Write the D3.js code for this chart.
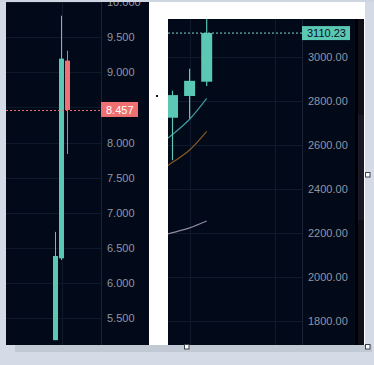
<!DOCTYPE html>
<html><head><meta charset="utf-8">
<script src="https://cdn.jsdelivr.net/npm/d3@7"></script>
<style>html,body{margin:0;padding:0;background:#d4dbe6;overflow:hidden}svg{display:block}</style>
</head><body>
<svg id="c" width="374" height="365"></svg>
<script>
// ---- Left chart data ----
const leftOpen  = [5.19, 6.354, 9.166];
const leftClose = [6.387, 9.194, 8.464];
const leftHigh  = [6.73, 9.805, 9.307];
const leftLow   = [5.19, 6.33, 7.838];
const leftGrid  = [10.0, 9.5, 9.0, 8.5, 8.0, 7.5, 7.0, 6.5, 6.0, 5.5];
const leftTicks = [10.0, 9.5, 9.0, 8.0, 7.5, 7.0, 6.5, 6.0, 5.5]; // 8.500 is hidden under the price label
const leftLast  = 8.457;

// ---- Right chart data ----
const rightOpen  = [2725, 2824, 2889];
const rightClose = [2828, 2893, 3110.23];
const rightHigh  = [2848, 2948, 3200];
const rightLow   = [2532, 2722, 2869];
const maIdx      = [-1, 0, 1, 2];
const maTeal     = [2590, 2649, 2718, 2813];
const maOrange   = [2470, 2522, 2578, 2663];
const maGrey     = [2180, 2202, 2224, 2255];
const rightTicks = [3000, 2800, 2600, 2400, 2200, 2000, 1800];
const rightLast  = 3110.23;

const UP = "#5ac8b2", DOWN = "#ef7070", BG = "#020918", GRID = "#111a2c", SEP = "#1c2336", TXT = "#8f96a6";
const svg = d3.select("#c");
const defs = svg.append("defs");

// page background pieces
svg.append("rect").attr("x",0).attr("y",0).attr("width",374).attr("height",365).attr("fill","#d4dbe6");
svg.append("rect").attr("x",15).attr("y",345).attr("width",357).attr("height",7).attr("fill","#c1c9d5");
svg.append("rect").attr("x",0).attr("y",0).attr("width",374).attr("height",2).attr("fill","#cdd5e1");

// ===== LEFT CHART =====
svg.append("rect").attr("x",6).attr("y",2).attr("width",143).attr("height",343).attr("fill",BG);
defs.append("clipPath").attr("id","clipL").append("rect").attr("x",6).attr("y",2).attr("width",143).attr("height",343);
defs.append("clipPath").attr("id","clipLP").append("rect").attr("x",6).attr("y",2).attr("width",95).attr("height",343);
const yL = d3.scaleLinear().domain([10, 5]).range([2, 353.5]);
const xL = d3.scaleLinear().domain([0, 2]).range([55.5, 67.5]);
const gL = svg.append("g").attr("clip-path","url(#clipL)");
const gLP = svg.append("g").attr("clip-path","url(#clipLP)");
gLP.selectAll("line.hg").data(leftGrid).join("line")
  .attr("x1",6).attr("x2",101).attr("y1",d=>Math.round(yL(d))+0.5).attr("y2",d=>Math.round(yL(d))+0.5)
  .attr("stroke",GRID).attr("stroke-width",1);
gLP.append("line").attr("x1",Math.round(xL(1))+0.5).attr("x2",Math.round(xL(1))+0.5).attr("y1",2).attr("y2",345).attr("stroke",GRID);
gL.append("line").attr("x1",101.5).attr("x2",101.5).attr("y1",2).attr("y2",345).attr("stroke",SEP);
// candles
const li = d3.range(leftOpen.length);
gLP.selectAll("line.wl").data(li).join("line")
  .attr("x1",i=>xL(i)).attr("x2",i=>xL(i)).attr("y1",i=>yL(leftHigh[i])).attr("y2",i=>yL(leftLow[i]))
  .attr("stroke",i=>leftClose[i]>=leftOpen[i]?UP:DOWN).attr("stroke-width",1);
gLP.selectAll("rect.bl").data(li).join("rect")
  .attr("x",i=>xL(i)-2.5).attr("width",5)
  .attr("y",i=>yL(Math.max(leftOpen[i],leftClose[i])))
  .attr("height",i=>Math.abs(yL(leftOpen[i])-yL(leftClose[i])))
  .attr("fill",i=>leftClose[i]>=leftOpen[i]?UP:DOWN);
// axis labels
const axL = d3.axisRight(yL).tickValues(leftTicks).tickFormat(d3.format(".3f")).tickSize(0).tickPadding(6);
const gAxL = gL.append("g").attr("transform","translate(101,0)").call(axL);
gAxL.select(".domain").remove();
gAxL.selectAll("text").attr("fill",TXT).attr("font-family","Liberation Sans, Arial, sans-serif").attr("font-size",11);
// last price line + label
const ly = yL(leftLast);
gLP.append("line").attr("x1",6).attr("x2",101).attr("y1",ly).attr("y2",ly).attr("stroke",DOWN).attr("stroke-dasharray","2,2");
gL.append("rect").attr("x",101).attr("y",ly-8.5).attr("width",37).attr("height",15).attr("fill",DOWN);
gL.append("text").attr("x",106).attr("y",ly).attr("dy","0.35em").attr("fill","#ffffff").attr("font-family","Liberation Sans, Arial, sans-serif").attr("font-size",11).text(d3.format(".3f")(leftLast));

// ===== RIGHT PANEL =====
svg.append("rect").attr("x",149).attr("y",2).attr("width",216).attr("height",343).attr("fill","#ffffff");
svg.append("rect").attr("x",156).attr("y",95).attr("width",2).attr("height",2).attr("fill","#111");
svg.append("rect").attr("x",168).attr("y",19).attr("width",187).attr("height",326).attr("fill",BG);
svg.append("rect").attr("x",355).attr("y",19).attr("width",3).attr("height",326).attr("fill","#000000");
svg.append("rect").attr("x",358).attr("y",19).attr("width",6).attr("height",326).attr("fill","#100e1b");
svg.append("rect").attr("x",358).attr("y",115).attr("width",6).attr("height",105).attr("fill","#1a1727");

defs.append("clipPath").attr("id","clipR").append("rect").attr("x",168).attr("y",19).attr("width",187).attr("height",326);
defs.append("clipPath").attr("id","clipRP").append("rect").attr("x",168).attr("y",19).attr("width",134.5).attr("height",326);
const yR = d3.scaleLinear().domain([3000, 1800]).range([57.3, 321]);
const xR = d3.scaleLinear().domain([0, 1]).range([172.5, 189.6]);
const gR = svg.append("g").attr("clip-path","url(#clipR)");
const gRP = svg.append("g").attr("clip-path","url(#clipRP)");
gRP.selectAll("line.hg").data(rightTicks).join("line")
  .attr("x1",168).attr("x2",302).attr("y1",d=>Math.round(yR(d))+0.5).attr("y2",d=>Math.round(yR(d))+0.5)
  .attr("stroke",GRID);
gRP.selectAll("line.vg").data([1, 6]).join("line")
  .attr("x1",d=>Math.round(xR(d))+0.5).attr("x2",d=>Math.round(xR(d))+0.5).attr("y1",19).attr("y2",345)
  .attr("stroke",GRID);
gR.append("line").attr("x1",302.5).attr("x2",302.5).attr("y1",19).attr("y2",345).attr("stroke",SEP);

// moving averages
const lineGen = arr => d3.line().x((d,i)=>xR(maIdx[i])).y(d=>yR(d)).curve(d3.curveMonotoneX)(arr);
gRP.append("path").attr("d",lineGen(maGrey)).attr("fill","none").attr("stroke","#8e88a2").attr("stroke-width",1.2);
gRP.append("path").attr("d",lineGen(maOrange)).attr("fill","none").attr("stroke","#8a5a26").attr("stroke-width",1.2);
gRP.append("path").attr("d",lineGen(maTeal)).attr("fill","none").attr("stroke","#3f9aa0").attr("stroke-width",1.2);

// candles
const ri = d3.range(rightOpen.length);
gRP.selectAll("line.wr").data(ri).join("line")
  .attr("x1",i=>xR(i)).attr("x2",i=>xR(i)).attr("y1",i=>yR(rightHigh[i])).attr("y2",i=>yR(rightLow[i]))
  .attr("stroke",i=>rightClose[i]>=rightOpen[i]?UP:DOWN).attr("stroke-width",1.2);
gRP.selectAll("rect.br").data(ri).join("rect")
  .attr("x",i=>xR(i)-5.5).attr("width",11)
  .attr("y",i=>yR(Math.max(rightOpen[i],rightClose[i])))
  .attr("height",i=>Math.abs(yR(rightOpen[i])-yR(rightClose[i])))
  .attr("fill",i=>rightClose[i]>=rightOpen[i]?UP:DOWN);

// axis labels
const axR = d3.axisRight(yR).tickValues(rightTicks).tickFormat(d3.format(".2f")).tickSize(0).tickPadding(6);
const gAxR = gR.append("g").attr("transform","translate(302,0)").call(axR);
gAxR.select(".domain").remove();
gAxR.selectAll("text").attr("fill",TXT).attr("font-family","Liberation Sans, Arial, sans-serif").attr("font-size",11);

// last price
const ry = yR(rightLast);
gRP.append("line").attr("x1",168).attr("x2",302).attr("y1",ry).attr("y2",ry).attr("stroke","#7fd8cc").attr("stroke-dasharray","2,2");
gR.append("rect").attr("x",302).attr("y",ry-7).attr("width",48).attr("height",14).attr("fill",UP);
gR.append("text").attr("x",307).attr("y",ry).attr("dy","0.35em").attr("fill","#0a1020").attr("font-family","Liberation Sans, Arial, sans-serif").attr("font-size",11).text(d3.format(".2f")(rightLast));

// selection handles
const handles = [[366,173],[185,345],[366,345]];
svg.selectAll("rect.h").data(handles).join("rect")
  .attr("x",d=>d[0]-0.5).attr("y",d=>d[1]-0.5).attr("width",4.5).attr("height",4.5)
  .attr("fill","#ffffff").attr("stroke","#3a3f4a").attr("stroke-width",1);
</script>
</body></html>
